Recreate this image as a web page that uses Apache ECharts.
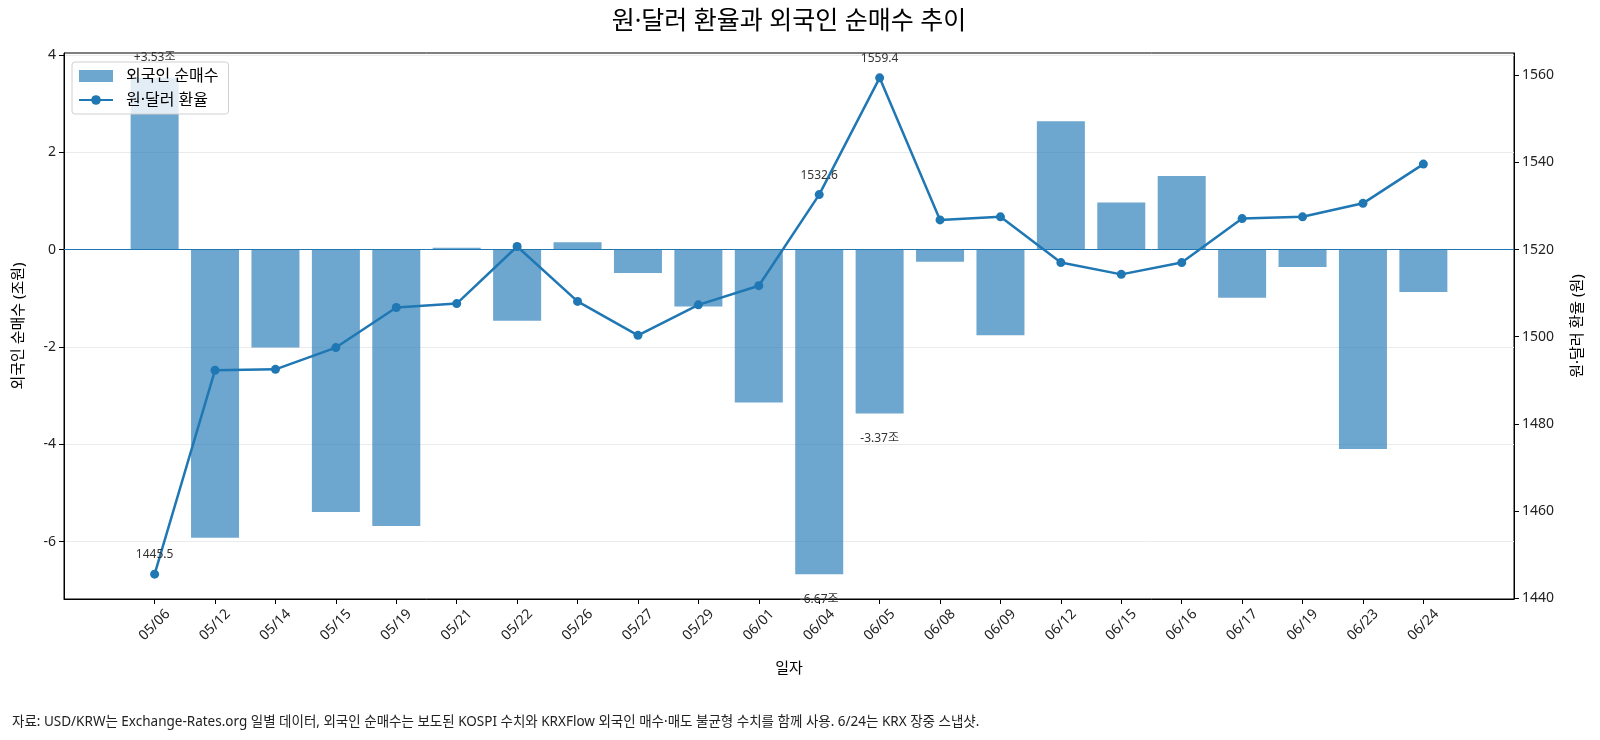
<!DOCTYPE html>
<html>
<head>
<meta charset="utf-8">
<title>원·달러 환율과 외국인 순매수 추이</title>
<script src="https://cdn.jsdelivr.net/npm/echarts@6/dist/echarts.min.js"></script>
<style>
    html, body { margin: 0; padding: 0; background: #fff; }
    #chart { width: 1600px; height: 740px; }
</style>
</head>
<body>
<div id="chart"></div>
<script>
/* global echarts */

// 일자
var dates = ['05/06', '05/12', '05/14', '05/15', '05/19', '05/21', '05/22', '05/26', '05/27', '05/29', '06/01',
    '06/04', '06/05', '06/08', '06/09', '06/12', '06/15', '06/16', '06/17', '06/19', '06/23', '06/24'];

// 외국인 순매수 (조원)
var netBuy = [3.53, -5.92, -2.01, -5.39, -5.68, 0.04, -1.46, 0.15, -0.48, -1.17, -3.14,
    -6.67, -3.37, -0.25, -1.76, 2.64, 0.97, 1.51, -0.99, -0.36, -4.10, -0.87];

// 원·달러 환율 (원)
var fxRate = [1445.5, 1492.3, 1492.5, 1497.5, 1506.7, 1507.6, 1520.7, 1508.1, 1500.3, 1507.3, 1511.7,
    1532.6, 1559.4, 1526.8, 1527.5, 1517.0, 1514.3, 1517.0, 1527.1, 1527.5, 1530.6, 1539.6];

// 눈금
var leftTicks = [-6, -4, -2, 0, 2, 4];
var rightTicks = [1440, 1460, 1480, 1500, 1520, 1540, 1560];

// 값을 표시할 항목
var labelIndex = [0, 11, 12];

var FONT = '"Noto Sans", "Noto Sans CJK KR", sans-serif';
var BLUE = '#1f77b4';

function showChart() {
    var chart = echarts.init(document.getElementById('chart'));
    var xTicks = dates.map(function (d, i) {
        return i;
    });

    var barData = netBuy.map(function (v, i) {
        var item = { value: [i, v] };
        if (labelIndex.indexOf(i) >= 0) {
            item.label = {
                show: true,
                position: v >= 0 ? 'top' : 'bottom',
                distance: v >= 0 ? 14 : 19,
                formatter: (v > 0 ? '+' : '') + v.toFixed(2) + '조'
            };
        }
        return item;
    });

    var lineData = fxRate.map(function (v, i) {
        var item = { value: [i, v] };
        if (labelIndex.indexOf(i) >= 0) {
            item.label = {
                show: true,
                position: 'top',
                distance: 9,
                formatter: v.toFixed(1)
            };
        }
        return item;
    });

    chart.setOption({
        textStyle: {
            fontFamily: FONT
        },
        title: [
            {
                text: '원·달러 환율과 외국인 순매수 추이',
                left: 789,
                textAlign: 'center',
                top: 9,
                padding: 0,
                textStyle: {
                    fontFamily: FONT,
                    fontSize: 25,
                    fontWeight: 'normal',
                    color: '#000'
                }
            },
            {
                text: '자료: USD/KRW는 Exchange-Rates.org 일별 데이터, 외국인 순매수는 보도된 KOSPI 수치와 KRXFlow 외국인 매수·매도 불균형 수치를 함께 사용. 6/24는 KRX 장중 스냅샷.',
                left: 12,
                top: 715,
                padding: 0,
                textStyle: {
                    fontFamily: FONT,
                    fontSize: 13.5,
                    fontWeight: 'normal',
                    color: '#222'
                }
            }
        ],
        legend: {
            left: 72,
            top: 62,
            orient: 'vertical',
            padding: [6, 10, 6, 6],
            itemGap: 8,
            itemWidth: 34,
            itemHeight: 12,
            backgroundColor: 'rgba(255,255,255,0.8)',
            borderColor: '#d0d0d0',
            borderWidth: 1,
            borderRadius: 3,
            textStyle: {
                fontFamily: FONT,
                fontSize: 16,
                color: '#000',
                padding: [0, 0, 0, 8]
            },
            data: [
                { name: '외국인 순매수', icon: 'rect' },
                { name: '원·달러 환율' }
            ]
        },
        grid: {
            left: 64,
            right: 86,
            top: 53,
            bottom: 141,
            show: true,
            borderColor: '#000',
            borderWidth: 1,
            outerBoundsMode: 'none'
        },
        xAxis: {
            type: 'value',
            min: -1.5,
            max: 22.5,
            name: '일자',
            nameLocation: 'middle',
            nameGap: 62,
            nameTextStyle: {
                fontSize: 15,
                color: '#000'
            },
            axisLine: {
                onZero: false,
                lineStyle: { color: '#000', width: 1 }
            },
            axisTick: {
                customValues: xTicks,
                length: 5,
                lineStyle: { color: '#000' }
            },
            axisLabel: {
                customValues: xTicks,
                rotate: 45,
                align: 'center',
                verticalAlign: 'middle',
                fontSize: 14,
                color: '#222',
                margin: 26,
                formatter: function (v) {
                    return dates[v];
                }
            },
            splitLine: { show: false }
        },
        yAxis: [
            {
                type: 'value',
                min: -7.18,
                max: 4.04,
                name: '외국인 순매수 (조원)',
                nameLocation: 'middle',
                nameRotate: 90,
                nameGap: 38,
                nameTextStyle: {
                    fontSize: 15,
                    color: '#000'
                },
                axisLine: {
                    show: true,
                    onZero: false,
                    lineStyle: { color: '#000', width: 1 }
                },
                axisTick: {
                    show: true,
                    customValues: leftTicks,
                    length: 5,
                    lineStyle: { color: '#000' }
                },
                axisLabel: {
                    customValues: leftTicks,
                    fontSize: 14,
                    color: '#222',
                    margin: 8
                },
                splitLine: {
                    show: true,
                    lineStyle: { color: '#ebebeb', width: 1 }
                }
            },
            {
                type: 'value',
                min: 1439.8,
                max: 1565.1,
                name: '원·달러 환율 (원)',
                nameLocation: 'middle',
                nameRotate: 90,
                nameGap: 56,
                nameTextStyle: {
                    fontSize: 15,
                    color: '#000'
                },
                axisLine: {
                    show: true,
                    onZero: false,
                    lineStyle: { color: '#000', width: 1 }
                },
                axisTick: {
                    show: true,
                    customValues: rightTicks,
                    length: 5,
                    lineStyle: { color: '#000' }
                },
                axisLabel: {
                    customValues: rightTicks,
                    fontSize: 14,
                    color: '#222',
                    margin: 8,
                    formatter: function (v) {
                        return String(v);
                    }
                },
                splitLine: { show: false }
            }
        ],
        series: [
            {
                name: '외국인 순매수',
                type: 'bar',
                yAxisIndex: 0,
                barWidth: 48,
                itemStyle: {
                    color: 'rgba(31,119,180,0.65)'
                },
                label: {
                    fontFamily: FONT,
                    fontSize: 12,
                    color: '#333'
                },
                data: barData,
                markLine: {
                    silent: true,
                    symbol: 'none',
                    label: { show: false },
                    lineStyle: { color: BLUE, width: 1, type: 'solid' },
                    data: [{ yAxis: 0 }]
                },
                z: 2
            },
            {
                name: '원·달러 환율',
                type: 'line',
                yAxisIndex: 1,
                color: BLUE,
                symbol: 'circle',
                symbolSize: 9,
                lineStyle: { width: 2.5, color: BLUE },
                itemStyle: { color: BLUE },
                label: {
                    fontFamily: FONT,
                    fontSize: 12,
                    color: '#333'
                },
                data: lineData,
                z: 3
            }
        ]
    });
}

showChart();
</script>
</body>
</html>
